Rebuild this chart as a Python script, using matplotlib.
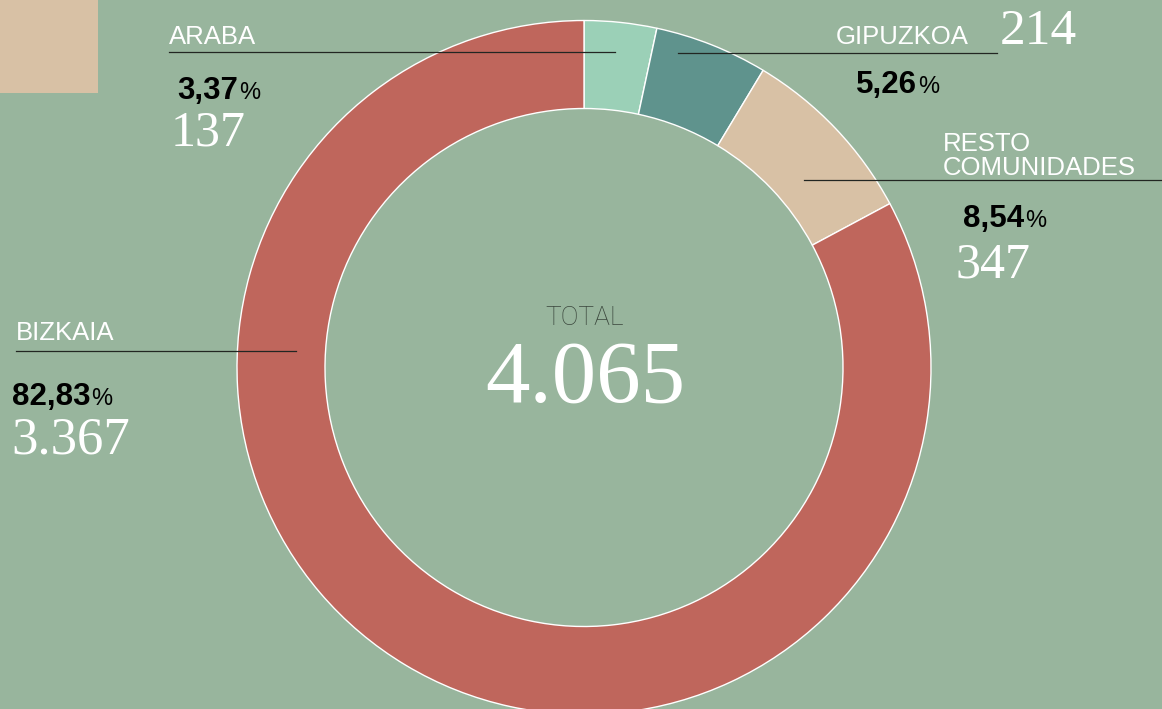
import matplotlib
matplotlib.use("Agg")
import matplotlib.pyplot as plt
from matplotlib.lines import Line2D
from matplotlib.patches import Rectangle

# data
regions = ["ARABA", "GIPUZKOA", "RESTO\nCOMUNIDADES", "BIZKAIA"]
values = [137, 214, 347, 3367]
colors = ["#9bd0b7", "#5f938d", "#d8c1a5", "#bf665c"]

W, H = 1162, 709
bg = "#98b59d"
sans = ["Liberation Sans", "DejaVu Sans"]
serif = ["Liberation Serif", "DejaVu Serif"]

total = sum(values)
pcts = [v / total * 100 for v in values]


def fmt_num(n):
    return f"{n:,}".replace(",", ".")


def fmt_pct(p):
    return f"{p:.2f}".replace(".", ",")


fig = plt.figure(figsize=(W / 100, H / 100), dpi=100, facecolor=bg)

# donut, center in px, outer / inner radius in px
cx, cy, r_out, r_in = 584, 367.5, 347, 259
ax = fig.add_axes([(cx - r_out) / W, (H - cy - r_out) / H, 2 * r_out / W, 2 * r_out / H])
ax.pie(values, colors=colors, startangle=90, counterclock=False, radius=1,
       wedgeprops=dict(width=(r_out - r_in) / r_out, edgecolor="white", linewidth=1.0))
ax.set_xlim(-1, 1)
ax.set_ylim(-1, 1)
ax.set_aspect("equal")
ax.axis("off")

# beige square in the corner
fig.add_artist(Rectangle((0, 1 - 93 / H), 98 / W, 93 / H, transform=fig.transFigure,
                         facecolor="#d8c1a5", edgecolor="none"))


def fx(x):
    return x / W


def fy(y):
    return 1 - y / H


def leader(x0, x1, y):
    fig.add_artist(Line2D([fx(x0), fx(x1)], [fy(y), fy(y)], transform=fig.transFigure,
                          color="#222622", lw=0.9, zorder=5))


renderer = fig.canvas.get_renderer()


def pct_label(x, y, p):
    t = fig.text(fx(x), fy(y), fmt_pct(p), fontsize=22.5, fontweight="bold", family=sans,
                 color="black", va="baseline", ha="left")
    bb = t.get_window_extent(renderer=renderer)
    fig.text(fx(bb.x1 + 1), fy(y), "%", fontsize=17, family=sans, color="black",
             va="baseline", ha="left")


def num_label(x, y, n, size=36):
    fig.text(fx(x), fy(y), fmt_num(n), fontsize=size, family=serif, color="white",
             va="baseline", ha="left")


def name_label(x, y, s):
    fig.text(fx(x), fy(y), s, fontsize=18.5, family=sans, color="white",
             va="baseline", ha="left", linespacing=0.98)


# ARABA
name_label(169, 44, regions[0])
leader(169, 615, 52)
pct_label(177, 99, pcts[0])
num_label(171, 146, values[0])

# GIPUZKOA
name_label(836, 44, regions[1])
num_label(1000, 44, values[1], size=37)
leader(678, 997, 53)
pct_label(856, 93, pcts[1])

# RESTO COMUNIDADES
name_label(943, 175, regions[2])
leader(804, 1162, 180)
pct_label(963, 227, pcts[2])
num_label(956, 277, values[2])

# BIZKAIA
name_label(16, 340, regions[3])
leader(16, 296, 351)
pct_label(12, 405, pcts[3])
num_label(11, 454, values[3], size=38)

# center total
fig.text(fx(585), fy(325), "TOTAL", fontsize=19, family=["Roboto", "DejaVu Sans"],
         fontweight="light", color="#3a463c", ha="center", va="baseline")
fig.text(fx(585), fy(402), fmt_num(total), fontsize=64, family=serif, color="white",
         ha="center", va="baseline")

fig.savefig("out.png", dpi=100, facecolor=bg)
